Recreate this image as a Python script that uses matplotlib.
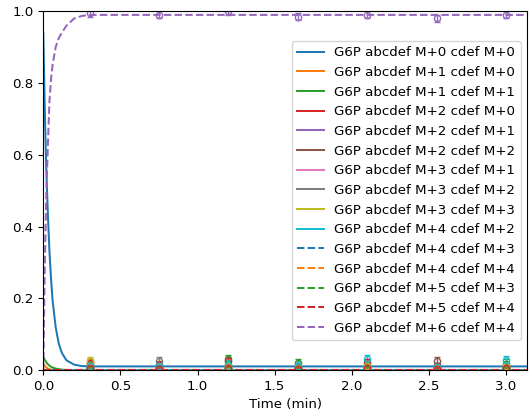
import numpy as np
import matplotlib
matplotlib.use("Agg")
import matplotlib.pyplot as plt

labels = [
    "G6P abcdef M+0 cdef M+0", "G6P abcdef M+1 cdef M+0", "G6P abcdef M+1 cdef M+1",
    "G6P abcdef M+2 cdef M+0", "G6P abcdef M+2 cdef M+1", "G6P abcdef M+2 cdef M+2",
    "G6P abcdef M+3 cdef M+1", "G6P abcdef M+3 cdef M+2", "G6P abcdef M+3 cdef M+3",
    "G6P abcdef M+4 cdef M+2", "G6P abcdef M+4 cdef M+3", "G6P abcdef M+4 cdef M+4",
    "G6P abcdef M+5 cdef M+3", "G6P abcdef M+5 cdef M+4", "G6P abcdef M+6 cdef M+4",
]

# fitted curves
fit_t = [0, 0.01, 0.02, 0.03, 0.04, 0.05, 0.06, 0.08, 0.10, 0.12, 0.15, 0.20, 0.25, 0.30, 0.40, 3.14]
fit_m0 = [0.94, 0.72, 0.55, 0.43, 0.33, 0.255, 0.195, 0.12, 0.074, 0.048, 0.027, 0.015, 0.011, 0.010, 0.010, 0.010]
fit_m1_0 = [0.018, 0.011, 0.007, 0.004, 0.002, 0.001, 0.0, 0.0, 0.0, 0.0, 0.0, 0.0, 0.0, 0.0, 0.0, 0.0]
fit_m1_1 = [0.037, 0.028, 0.021, 0.016, 0.012, 0.009, 0.007, 0.004, 0.002, 0.001, 0.0, 0.0, 0.0, 0.0, 0.0, 0.0]
fit_m6_4 = [0.0, 0.30, 0.50, 0.63, 0.75, 0.81, 0.85, 0.90, 0.925, 0.94, 0.96, 0.98, 0.987, 0.99, 0.99, 0.99]
fit_zero = [0.0] * len(fit_t)

# measured points
meas_t = [0.3, 0.75, 1.2, 1.65, 2.1, 2.55, 3.0]
meas = [
    [0.012, 0.015, 0.014, 0.011, 0.013, 0.010, 0.012],
    [0.022, 0.008, 0.012, 0.004, 0.010, 0.006, 0.008],
    [0.015, 0.010, 0.030, 0.020, 0.012, 0.008, 0.018],
    [0.020, 0.015, 0.025, 0.008, 0.022, 0.010, 0.012],
    [0.005, 0.004, 0.006, 0.003, 0.005, 0.004, 0.004],
    [0.008, 0.006, 0.010, 0.005, 0.008, 0.025, 0.006],
    [0.004, 0.003, 0.005, 0.003, 0.004, 0.003, 0.004],
    [0.010, 0.025, 0.012, 0.006, 0.010, 0.008, 0.010],
    [0.025, 0.008, 0.010, 0.006, 0.012, 0.006, 0.012],
    [0.012, 0.010, 0.015, 0.012, 0.030, 0.008, 0.028],
    [0.004, 0.005, 0.004, 0.003, 0.004, 0.003, 0.004],
    [0.003, 0.004, 0.003, 0.002, 0.003, 0.002, 0.003],
    [0.004, 0.003, 0.004, 0.003, 0.004, 0.003, 0.004],
    [0.005, 0.004, 0.006, 0.004, 0.005, 0.004, 0.005],
    [0.995, 0.990, 1.000, 0.985, 0.990, 0.980, 0.990],
]
meas_err = [0.008, 0.008, 0.012, 0.010, 0.004, 0.010, 0.004, 0.010, 0.010, 0.012,
            0.004, 0.004, 0.004, 0.004, 0.010]

fits = [fit_m0, fit_m1_0, fit_m1_1] + [fit_zero] * 11 + [fit_m6_4]

# reference looks rendered a touch smaller than default
plt.rcParams["font.size"] = 9.6
plt.rcParams["lines.linewidth"] = 1.45

fig = plt.figure(figsize=(5.29, 4.18), dpi=100)
ax = fig.add_axes([43.3 / 529, 48 / 418, (527.5 - 43.3) / 529, (370.4 - 11.7) / 418])

for i, lab in enumerate(labels):
    color = "C%d" % (i % 10)
    ls = "-" if i < 10 else "--"
    ax.plot(fit_t, fits[i], ls, color=color, label=lab)
    ax.errorbar(meas_t, meas[i], yerr=meas_err[i], fmt="o", color=color,
                mfc="none", ms=4.5, capsize=2, elinewidth=1)

ax.set_xlim(0, 3.14)
ax.set_ylim(0, 1)
ax.set_xlabel("Time (min)")
ax.legend(loc="center right")

fig.savefig("out.png", dpi=100)
